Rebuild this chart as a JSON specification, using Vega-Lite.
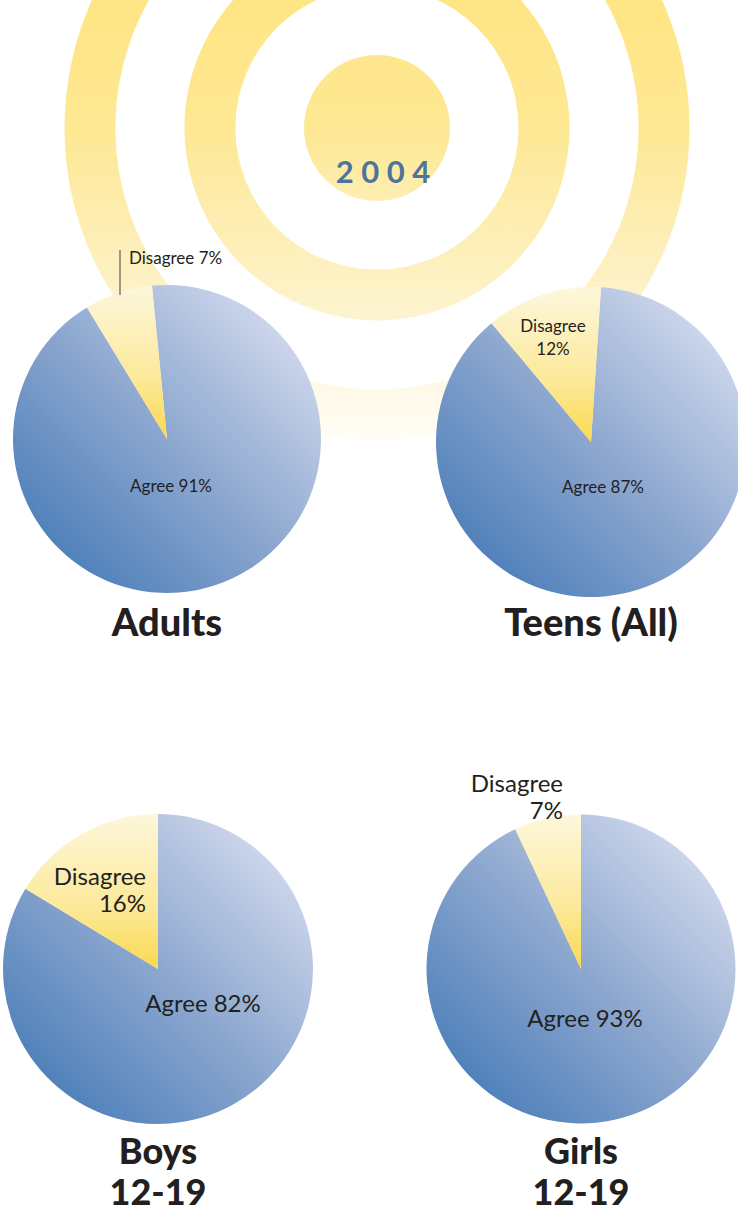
{
  "$schema": "https://vega.github.io/schema/vega-lite/v6.json",
  "width": 738,
  "height": 1214,
  "padding": 0,
  "autosize": "none",
  "background": "#ffffff",
  "config": {"view": {"stroke": null}, "text": {"font": "Lato", "color": "#231f20"}},
  "datasets": {
    "survey": [
      {"pie": "Adults", "answer": "Agree", "pct": 91, "label": "Agree 91%"},
      {"pie": "Adults", "answer": "Disagree", "pct": 7, "label": "Disagree 7%"},
      {"pie": "Teens (All)", "answer": "Agree", "pct": 87, "label": "Agree 87%"},
      {"pie": "Teens (All)", "answer": "Disagree", "pct": 12, "label": "Disagree\n12%"},
      {"pie": "Boys 12-19", "answer": "Agree", "pct": 82, "label": "Agree 82%"},
      {"pie": "Boys 12-19", "answer": "Disagree", "pct": 16, "label": "Disagree\n16%"},
      {"pie": "Girls 12-19", "answer": "Agree", "pct": 93, "label": "Agree 93%"},
      {"pie": "Girls 12-19", "answer": "Disagree", "pct": 7, "label": "Disagree\n7%"}
    ],
    "emblem": [{"year": "2004"}]
  },
  "resolve": {"scale": {"x": "independent", "y": "independent", "theta": "independent"}},
  "layer": [
    {
      "data": {"name": "emblem"},
      "encoding": {
        "x": {"field": "year", "type": "nominal", "scale": {"range": [377, 377]}, "axis": null},
        "y": {"field": "year", "type": "nominal", "scale": {"range": [128, 128]}, "axis": null}
      },
      "layer": [
        {
          "mark": {"type": "arc", "radius": 312.5, "radius2": 261.6, "theta": 0, "theta2": 6.2832,
            "color": {"gradient": "linear", "x1": 0, "y1": 0, "x2": 0, "y2": 1, "stops": [
              {"offset": 0, "color": "#fee585"}, {"offset": 0.3, "color": "#fee585"},
              {"offset": 0.5, "color": "#fee893"}, {"offset": 0.62, "color": "#fdecab"},
              {"offset": 0.81, "color": "#fdf4d2"}, {"offset": 0.9, "color": "#fef8e4"},
              {"offset": 1, "color": "#fffdf6"}]}}
        },
        {
          "mark": {"type": "arc", "radius": 192.5, "radius2": 141.6, "theta": 0, "theta2": 6.2832,
            "color": {"gradient": "linear", "x1": 0, "y1": 0, "x2": 0, "y2": 1, "stops": [
              {"offset": 0, "color": "#fee585"}, {"offset": 0.17, "color": "#fee585"},
              {"offset": 0.5, "color": "#fee893"}, {"offset": 0.69, "color": "#fdecab"},
              {"offset": 1, "color": "#fdf4d0"}]}}
        },
        {
          "mark": {"type": "arc", "radius": 73, "theta": 0, "theta2": 6.2832,
            "color": {"gradient": "linear", "x1": 0, "y1": 0, "x2": 0, "y2": 1, "stops": [
              {"offset": 0, "color": "#fee68c"}, {"offset": 0.5, "color": "#fee893"},
              {"offset": 1, "color": "#fdeeb2"}]}}
        },
        {
          "mark": {"type": "text", "dx": 6, "dy": 54.7, "fontSize": 31, "fontWeight": "bold", "color": "#4f7499", "align": "center", "baseline": "alphabetic"},
          "encoding": {"text": {"value": "2 0 0 4"}}
        }
      ]
    },
    {
      "data": {"name": "survey"},
      "transform": [{"filter": "datum.pie === 'Adults'"}],
      "encoding": {
        "x": {"field": "pie", "type": "nominal", "scale": {"range": [167, 167]}, "axis": null},
        "y": {"field": "pie", "type": "nominal", "scale": {"range": [439, 439]}, "axis": null}
      },
      "layer": [
        {
          "mark": {"type": "arc", "radius": 154},
          "encoding": {
            "theta": {"field": "pct", "type": "quantitative", "stack": "normalize", "scale": {"range": [-0.0977, 6.1855]}},
            "order": {"field": "answer", "sort": "ascending"},
            "detail": {"field": "answer"},
            "color": {
              "condition": {"test": "datum.answer === 'Agree'", "value": {"gradient": "linear", "x1": 0, "y1": 1, "x2": 1, "y2": 0, "stops": [{"offset": 0.15, "color": "#5282bb"}, {"offset": 0.5, "color": "#8ca7cf"}, {"offset": 0.85, "color": "#cad4ea"}]}},
              "value": {"gradient": "linear", "x1": 0, "y1": 0, "x2": 0, "y2": 1, "stops": [{"offset": 0, "color": "#fdf7dc"}, {"offset": 0.6, "color": "#fce99a"}, {"offset": 1, "color": "#fad94e"}]}
            }
          }
        },
        {
          "transform": [{"filter": "datum.answer === 'Agree'"}],
          "mark": {"type": "text", "dx": 4, "dy": 53, "fontSize": 17, "align": "center", "baseline": "alphabetic"},
          "encoding": {"text": {"field": "label"}}
        },
        {
          "transform": [{"filter": "datum.answer === 'Disagree'"}],
          "mark": {"type": "text", "dx": -38, "dy": -175, "fontSize": 17, "align": "left", "baseline": "alphabetic"},
          "encoding": {"text": {"field": "label"}}
        },
        {
          "transform": [{"filter": "datum.answer === 'Disagree'"}],
          "mark": {"type": "point", "shape": "M-47,-189L-47,-144", "size": 4, "filled": false, "stroke": "#4d4d4d", "strokeWidth": 1.1, "opacity": 1}
        },
        {
          "transform": [{"filter": "datum.answer === 'Agree'"}],
          "mark": {"type": "text", "dy": 197, "fontSize": 38, "fontWeight": 900, "align": "center", "baseline": "alphabetic"},
          "encoding": {"text": {"field": "pie"}}
        }
      ]
    },
    {
      "data": {"name": "survey"},
      "transform": [{"filter": "datum.pie === 'Teens (All)'"}],
      "encoding": {
        "x": {"field": "pie", "type": "nominal", "scale": {"range": [591, 591]}, "axis": null},
        "y": {"field": "pie", "type": "nominal", "scale": {"range": [442, 442]}, "axis": null}
      },
      "layer": [
        {
          "mark": {"type": "arc", "radius": 155},
          "encoding": {
            "theta": {"field": "pct", "type": "quantitative", "stack": "normalize", "scale": {"range": [0.0646, 6.3478]}},
            "order": {"field": "answer", "sort": "ascending"},
            "detail": {"field": "answer"},
            "color": {
              "condition": {"test": "datum.answer === 'Agree'", "value": {"gradient": "linear", "x1": 0, "y1": 1, "x2": 1, "y2": 0, "stops": [{"offset": 0.15, "color": "#5282bb"}, {"offset": 0.5, "color": "#8ca7cf"}, {"offset": 0.85, "color": "#cad4ea"}]}},
              "value": {"gradient": "linear", "x1": 0, "y1": 0, "x2": 0, "y2": 1, "stops": [{"offset": 0, "color": "#fdf7dc"}, {"offset": 0.6, "color": "#fce99a"}, {"offset": 1, "color": "#fad94e"}]}
            }
          }
        },
        {
          "transform": [{"filter": "datum.answer === 'Agree'"}],
          "mark": {"type": "text", "dx": 12, "dy": 51, "fontSize": 17, "align": "center", "baseline": "alphabetic"},
          "encoding": {"text": {"field": "label"}}
        },
        {
          "transform": [{"filter": "datum.answer === 'Disagree'"}],
          "mark": {"type": "text", "dx": -38, "dy": -110, "fontSize": 17, "lineBreak": "\n", "lineHeight": 23, "align": "center", "baseline": "alphabetic"},
          "encoding": {"text": {"field": "label"}}
        },
        {
          "transform": [{"filter": "datum.answer === 'Agree'"}],
          "mark": {"type": "text", "dy": 194, "fontSize": 38, "fontWeight": 900, "align": "center", "baseline": "alphabetic"},
          "encoding": {"text": {"field": "pie"}}
        }
      ]
    },
    {
      "data": {"name": "survey"},
      "transform": [{"filter": "datum.pie === 'Boys 12-19'"}],
      "encoding": {
        "x": {"field": "pie", "type": "nominal", "scale": {"range": [158, 158]}, "axis": null},
        "y": {"field": "pie", "type": "nominal", "scale": {"range": [969, 969]}, "axis": null}
      },
      "layer": [
        {
          "mark": {"type": "arc", "radius": 155},
          "encoding": {
            "theta": {"field": "pct", "type": "quantitative", "stack": "normalize", "scale": {"range": [0, 6.2832]}},
            "order": {"field": "answer", "sort": "ascending"},
            "detail": {"field": "answer"},
            "color": {
              "condition": {"test": "datum.answer === 'Agree'", "value": {"gradient": "linear", "x1": 0, "y1": 1, "x2": 1, "y2": 0, "stops": [{"offset": 0.15, "color": "#5282bb"}, {"offset": 0.5, "color": "#8ca7cf"}, {"offset": 0.85, "color": "#cad4ea"}]}},
              "value": {"gradient": "linear", "x1": 0, "y1": 0, "x2": 0, "y2": 1, "stops": [{"offset": 0, "color": "#fdf7dc"}, {"offset": 0.6, "color": "#fce99a"}, {"offset": 1, "color": "#fad94e"}]}
            }
          }
        },
        {
          "transform": [{"filter": "datum.answer === 'Agree'"}],
          "mark": {"type": "text", "dx": 45, "dy": 43, "fontSize": 24, "align": "center", "baseline": "alphabetic"},
          "encoding": {"text": {"field": "label"}}
        },
        {
          "transform": [{"filter": "datum.answer === 'Disagree'"}],
          "mark": {"type": "text", "dx": -12, "dy": -84, "fontSize": 24, "lineBreak": "\n", "lineHeight": 27, "align": "right", "baseline": "alphabetic"},
          "encoding": {"text": {"field": "label"}}
        },
        {
          "transform": [{"filter": "datum.answer === 'Agree'"}],
          "mark": {"type": "text", "dy": 195, "fontSize": 36, "fontWeight": 900, "lineBreak": " ", "lineHeight": 41, "align": "center", "baseline": "alphabetic"},
          "encoding": {"text": {"field": "pie"}}
        }
      ]
    },
    {
      "data": {"name": "survey"},
      "transform": [{"filter": "datum.pie === 'Girls 12-19'"}],
      "encoding": {
        "x": {"field": "pie", "type": "nominal", "scale": {"range": [581, 581]}, "axis": null},
        "y": {"field": "pie", "type": "nominal", "scale": {"range": [969, 969]}, "axis": null}
      },
      "layer": [
        {
          "mark": {"type": "arc", "radius": 154.5},
          "encoding": {
            "theta": {"field": "pct", "type": "quantitative", "stack": "normalize", "scale": {"range": [0, 6.2832]}},
            "order": {"field": "answer", "sort": "ascending"},
            "detail": {"field": "answer"},
            "color": {
              "condition": {"test": "datum.answer === 'Agree'", "value": {"gradient": "linear", "x1": 0, "y1": 1, "x2": 1, "y2": 0, "stops": [{"offset": 0.15, "color": "#5282bb"}, {"offset": 0.5, "color": "#8ca7cf"}, {"offset": 0.85, "color": "#cad4ea"}]}},
              "value": {"gradient": "linear", "x1": 0, "y1": 0, "x2": 0, "y2": 1, "stops": [{"offset": 0, "color": "#fdf7dc"}, {"offset": 0.6, "color": "#fce99a"}, {"offset": 1, "color": "#fad94e"}]}
            }
          }
        },
        {
          "transform": [{"filter": "datum.answer === 'Agree'"}],
          "mark": {"type": "text", "dx": 4, "dy": 58, "fontSize": 24, "align": "center", "baseline": "alphabetic"},
          "encoding": {"text": {"field": "label"}}
        },
        {
          "transform": [{"filter": "datum.answer === 'Disagree'"}],
          "mark": {"type": "text", "dx": -18, "dy": -177, "fontSize": 24, "lineBreak": "\n", "lineHeight": 26.5, "align": "right", "baseline": "alphabetic"},
          "encoding": {"text": {"field": "label"}}
        },
        {
          "transform": [{"filter": "datum.answer === 'Agree'"}],
          "mark": {"type": "text", "dy": 195, "fontSize": 36, "fontWeight": 900, "lineBreak": " ", "lineHeight": 41, "align": "center", "baseline": "alphabetic"},
          "encoding": {"text": {"field": "pie"}}
        }
      ]
    }
  ]
}
